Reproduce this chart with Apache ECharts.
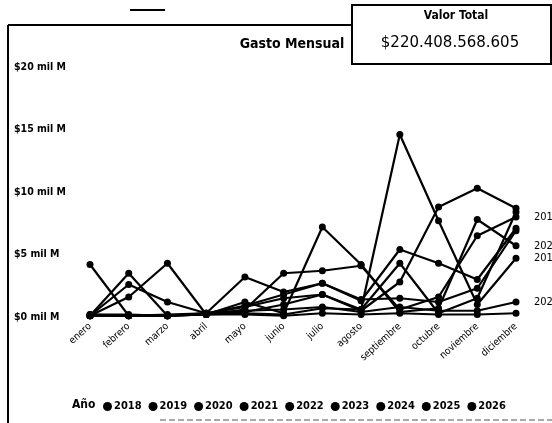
<!DOCTYPE html>
<html>
<head>
<meta charset="utf-8">
<script src="https://cdn.jsdelivr.net/npm/echarts@6/dist/echarts.min.js"></script>
<style>html,body{margin:0;padding:0;background:#fff;}#c{width:552px;height:423px;}</style>
</head>
<body>
<div id="c"></div>
<script>
const months = ['enero','febrero','marzo','abril','mayo','junio','julio','agosto','septiembre','octubre','noviembre','diciembre'];
const yTickLabels = ['$0 mil M','$5 mil M','$10 mil M','$15 mil M','$20 mil M'];
const years = ['2018','2019','2020','2021','2022','2023','2024','2025','2026'];
const v2018 = [0.1, 3.5, 0.1, 0.2, 0.6, 3.5, 3.7, 4.1, 0.6, 1.6, 6.5, 8.0];
const v2019 = [4.2, 0.1, 0.1, 0.2, 0.3, 0.2, 0.7, 0.6, 14.6, 7.7, 1.0, 4.7];
const v2020 = [0.1, 2.6, 1.2, 0.3, 3.2, 2.0, 2.7, 1.3, 5.4, 4.3, 3.0, 7.1];
const v2021 = [0.1, 0.1, 0.1, 0.2, 0.4, 1.0, 1.8, 0.6, 4.3, 0.3, 1.5, 8.4];
const v2022 = [0.2, 0.1, 0.1, 0.3, 0.8, 1.5, 1.8, 0.5, 2.8, 8.8, 10.3, 8.7];
const v2023 = [0.1, 1.6, 4.3, 0.2, 1.2, 0.3, 7.2, 4.2, 0.4, 0.7, 7.8, 5.7];
const v2024 = [0.2, 0.2, 0.1, 0.3, 0.5, 0.6, 0.8, 0.4, 0.8, 0.5, 0.5, 1.2];
const v2025 = [0.1, 0.1, 0.2, 0.3, 0.9, 1.8, 2.7, 1.4, 1.5, 1.2, 2.3, 6.9];
const v2026 = [0.1, 0.1, 0.1, 0.2, 0.2, 0.1, 0.3, 0.2, 0.3, 0.2, 0.2, 0.3];
const valorTotal = '$220.408.568.605';
const labeledYears = ['2018','2019','2023','2024'];

const seriesValues = [v2018, v2019, v2020, v2021, v2022, v2023, v2024, v2025, v2026];
const FONT = "'Liberation Sans Narrow', 'DejaVu Sans Condensed', sans-serif";

const chart = echarts.init(document.getElementById('c'), null, {renderer: 'canvas'});
const series = years.map((y, i) => ({
  name: y,
  type: 'line',
  data: seriesValues[i],
  symbol: 'circle',
  symbolSize: 7,
  lineStyle: {color: '#000', width: 2.2},
  itemStyle: {color: '#000'},
  endLabel: {
    show: labeledYears.includes(y),
    formatter: '{a}',
    distance: 18,
    color: '#000',
    fontFamily: FONT,
    fontSize: 11
  },
  emphasis: {disabled: true},
  animation: false
}));

chart.setOption({
  animation: false,
  backgroundColor: '#fff',
  title: {
    text: 'Gasto Mensual',
    left: 287, top: 32,
    textAlign: 'center',
    textStyle: {fontFamily: FONT, fontSize: 14, fontWeight: 'bold', color: '#000'}
  },
  grid: {left: 90, right: 36, top: 67, bottom: 106},
  legend: {
    left: 98, top: 396,
    icon: 'circle',
    itemWidth: 9, itemHeight: 9,
    itemGap: 7,
    textStyle: {fontFamily: FONT, fontSize: 11, fontWeight: 'bold', color: '#000', padding: [0,0,0,-3]},
    data: years
  },
  xAxis: {
    type: 'category',
    data: months,
    boundaryGap: false,
    axisLine: {show: false},
    axisTick: {show: false},
    axisLabel: {rotate: 42, margin: 8, color: '#000', fontFamily: FONT, fontSize: 10, interval: 0}
  },
  yAxis: {
    type: 'value',
    min: 0, max: 20, interval: 5,
    splitLine: {show: false},
    axisLine: {show: false},
    axisTick: {show: false},
    axisLabel: {
      align: 'left', margin: 76,
      color: '#000', fontFamily: FONT, fontSize: 10.5, fontWeight: 'bold',
      formatter: v => yTickLabels[Math.round(v / 5)]
    }
  },
  graphic: [
    {type: 'line', shape: {x1: 8, y1: 25, x2: 352, y2: 25}, style: {stroke: '#000', lineWidth: 2}},
    {type: 'line', shape: {x1: 8, y1: 25, x2: 8, y2: 423}, style: {stroke: '#000', lineWidth: 2}},
    {type: 'line', shape: {x1: 160, y1: 420, x2: 552, y2: 420}, style: {stroke: '#555', lineWidth: 1, lineDash: [6, 3]}},
    {type: 'line', shape: {x1: 130, y1: 10, x2: 165, y2: 10}, style: {stroke: '#000', lineWidth: 2}},
    {type: 'rect', shape: {x: 352, y: 5, width: 199, height: 59}, style: {stroke: '#000', lineWidth: 2, fill: 'none'}},
    {type: 'text', x: 456, y: 16, style: {text: 'Valor Total', x: 0, y: 0, textAlign: 'center', textVerticalAlign: 'middle', font: 'bold 12px ' + FONT, fill: '#000'}},
    {type: 'text', x: 450, y: 43, style: {text: valorTotal, x: 0, y: 0, textAlign: 'center', textVerticalAlign: 'middle', font: '15px "DejaVu Sans"', fill: '#000'}},
    {type: 'text', x: 72, y: 405, style: {text: 'Año', x: 0, y: 0, textAlign: 'left', textVerticalAlign: 'middle', font: 'bold 12px ' + FONT, fill: '#000'}}
  ],
  series: series
});
</script>
</body>
</html>
